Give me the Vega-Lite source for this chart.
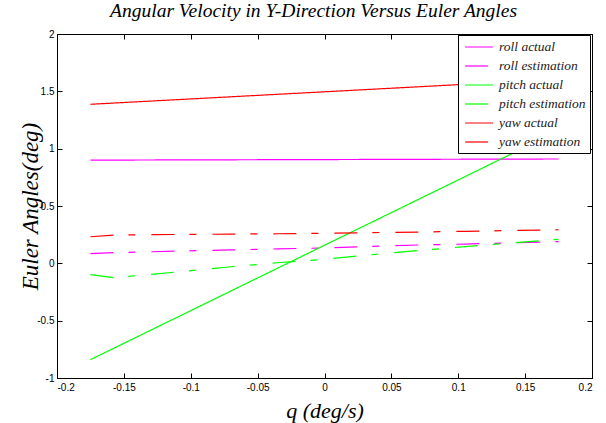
{
  "$schema": "https://vega.github.io/schema/vega-lite/v6.json",
  "width": 535,
  "height": 344,
  "autosize": {"type": "none"},
  "padding": {"left": 57, "top": 34, "right": 14, "bottom": 45},
  "background": "white",
  "title": {
    "text": "Angular Velocity in Y-Direction Versus Euler Angles",
    "font": "Liberation Serif",
    "fontStyle": "italic",
    "fontWeight": "normal",
    "fontSize": 19.5,
    "color": "black",
    "anchor": "middle",
    "dx": -11,
    "offset": 8
  },
  "config": {
    "view": {"stroke": "black", "strokeWidth": 1},
    "axis": {
      "grid": false,
      "domainColor": "black",
      "tickColor": "black",
      "labelColor": "black",
      "labelFont": "Liberation Sans",
      "labelFontSize": 10,
      "titleFont": "Liberation Serif",
      "titleFontStyle": "italic",
      "titleFontWeight": "normal",
      "titleFontSize": 22,
      "titleColor": "black"
    }
  },
  "data": {
    "values": [
      {"q": -0.175, "value": 0.900, "series": "roll actual"},
      {"q": 0.0, "value": 0.905, "series": "roll actual"},
      {"q": 0.175, "value": 0.910, "series": "roll actual"},

      {"q": -0.175, "value": 0.084, "series": "roll estimation"},
      {"q": -0.1575, "value": 0.093, "series": "roll estimation"},
      {"q": -0.105, "value": 0.108, "series": "roll estimation"},
      {"q": -0.07, "value": 0.117, "series": "roll estimation"},
      {"q": -0.035, "value": 0.126, "series": "roll estimation"},
      {"q": 0.0, "value": 0.134, "series": "roll estimation"},
      {"q": 0.035, "value": 0.148, "series": "roll estimation"},
      {"q": 0.07, "value": 0.160, "series": "roll estimation"},
      {"q": 0.105, "value": 0.168, "series": "roll estimation"},
      {"q": 0.14, "value": 0.178, "series": "roll estimation"},
      {"q": 0.175, "value": 0.190, "series": "roll estimation"},

      {"q": -0.175, "value": -0.840, "series": "pitch actual"},
      {"q": 0.175, "value": 1.155, "series": "pitch actual"},

      {"q": -0.175, "value": -0.099, "series": "pitch estimation"},
      {"q": -0.1575, "value": -0.125, "series": "pitch estimation"},
      {"q": -0.105, "value": -0.070, "series": "pitch estimation"},
      {"q": -0.07, "value": -0.030, "series": "pitch estimation"},
      {"q": -0.035, "value": 0.005, "series": "pitch estimation"},
      {"q": 0.0, "value": 0.035, "series": "pitch estimation"},
      {"q": 0.035, "value": 0.075, "series": "pitch estimation"},
      {"q": 0.07, "value": 0.112, "series": "pitch estimation"},
      {"q": 0.105, "value": 0.145, "series": "pitch estimation"},
      {"q": 0.14, "value": 0.178, "series": "pitch estimation"},
      {"q": 0.175, "value": 0.210, "series": "pitch estimation"},

      {"q": -0.175, "value": 1.387, "series": "yaw actual"},
      {"q": 0.175, "value": 1.605, "series": "yaw actual"},

      {"q": -0.175, "value": 0.232, "series": "yaw estimation"},
      {"q": -0.1575, "value": 0.247, "series": "yaw estimation"},
      {"q": -0.105, "value": 0.252, "series": "yaw estimation"},
      {"q": -0.07, "value": 0.255, "series": "yaw estimation"},
      {"q": -0.035, "value": 0.258, "series": "yaw estimation"},
      {"q": 0.0, "value": 0.262, "series": "yaw estimation"},
      {"q": 0.035, "value": 0.268, "series": "yaw estimation"},
      {"q": 0.07, "value": 0.273, "series": "yaw estimation"},
      {"q": 0.105, "value": 0.279, "series": "yaw estimation"},
      {"q": 0.14, "value": 0.286, "series": "yaw estimation"},
      {"q": 0.175, "value": 0.293, "series": "yaw estimation"}
    ]
  },
  "layer": [
    {
      "mark": {"type": "line", "strokeWidth": 1.2, "clip": true},
      "encoding": {
        "x": {
          "field": "q", "type": "quantitative",
          "scale": {"domain": [-0.2, 0.2], "nice": false, "zero": false},
          "axis": {
            "orient": "bottom",
            "values": [-0.2, -0.15, -0.1, -0.05, 0, 0.05, 0.1, 0.15, 0.2],
            "labelExpr": "'' + datum.value",
            "tickSize": -5,
            "labelPadding": 9,
            "title": "q (deg/s)",
            "titlePadding": 8
          }
        },
        "y": {
          "field": "value", "type": "quantitative",
          "scale": {"domain": [-1, 2], "nice": false, "zero": false},
          "axis": {
            "orient": "left",
            "values": [-1, -0.5, 0, 0.5, 1, 1.5, 2],
            "labelExpr": "'' + datum.value",
            "tickSize": -5,
            "labelPadding": 8,
            "title": "Euler Angles(deg)",
            "titleFontSize": 23,
            "titlePadding": -6
          }
        },
        "color": {
          "field": "series", "type": "nominal",
          "scale": {
            "domain": ["roll actual", "roll estimation", "pitch actual", "pitch estimation", "yaw actual", "yaw estimation"],
            "range": ["#ff00ff", "#ff00ff", "#00ff00", "#00ff00", "#ff0000", "#ff0000"]
          },
          "legend": {
            "title": null,
            "orient": "none",
            "legendX": 401,
            "legendY": 1,
            "direction": "vertical",
            "strokeColor": "black",
            "fillColor": "white",
            "padding": 4,
            "symbolType": "M-0.7,0H3.3",
            "symbolSize": 196,
            "symbolStrokeWidth": 1.2,
            "labelFont": "Liberation Serif",
            "labelFontStyle": "italic",
            "labelFontSize": 13.5,
            "labelColor": "#222222",
            "labelOffset": 21,
            "rowPadding": 4
          }
        },
        "strokeDash": {
          "field": "series", "type": "nominal",
          "scale": {
            "domain": ["roll actual", "roll estimation", "pitch actual", "pitch estimation", "yaw actual", "yaw estimation"],
            "range": [[1, 0], [23, 15, 7, 16], [1, 0], [23, 15, 7, 16], [1, 0], [23, 15, 7, 16]]
          },
          "legend": {
            "title": null,
            "orient": "none",
            "legendX": 401,
            "legendY": 1
          }
        }
      }
    },
    {
      "mark": {"type": "line", "opacity": 0},
      "encoding": {
        "x": {
          "field": "q", "type": "quantitative",
          "axis": {
            "orient": "top",
            "values": [-0.2, -0.15, -0.1, -0.05, 0, 0.05, 0.1, 0.15, 0.2],
            "labels": false,
            "tickSize": -5,
            "title": null
          }
        },
        "y": {
          "field": "value", "type": "quantitative",
          "axis": {
            "orient": "right",
            "values": [-1, -0.5, 0, 0.5, 1, 1.5, 2],
            "labels": false,
            "tickSize": -5,
            "title": null
          }
        },
        "detail": {"field": "series"}
      }
    }
  ],
  "resolve": {"axis": {"x": "independent", "y": "independent"}}
}
